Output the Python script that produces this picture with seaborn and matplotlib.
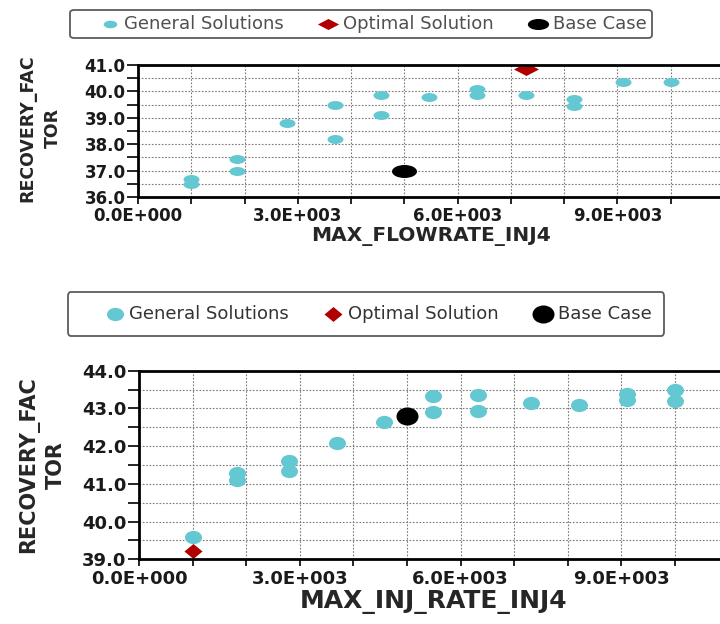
import numpy as np
import pandas as pd
import matplotlib
matplotlib.use("Agg")
import matplotlib.pyplot as plt
import seaborn as sns
from matplotlib.path import Path
from matplotlib.transforms import Affine2D
from matplotlib.ticker import MultipleLocator, FuncFormatter, FormatStrFormatter

# data
flow_x = [1000, 1000, 1850, 1850, 2800, 3700, 3700, 4570, 4570, 5470, 6360, 6360,
          7290, 8190, 8190, 9100, 10000]
flow_y = [36.5, 36.7, 37.0, 37.45, 38.8, 39.5, 38.2, 39.85, 39.1, 39.8, 40.1, 39.85,
          39.85, 39.7, 39.45, 40.35, 40.35]
flow_opt_x = [7290]
flow_opt_y = [40.85]
flow_base_x = [5000]
flow_base_y = [37.0]

inj_x = [1000, 1830, 1830, 2800, 2800, 3690, 4570, 5480, 5480, 6330, 6330, 7310,
         8200, 9100, 9100, 10000, 10000]
inj_y = [39.6, 41.3, 41.1, 41.6, 41.35, 42.07, 42.65, 43.33, 42.9, 43.35, 42.92,
         43.15, 43.09, 43.38, 43.22, 43.5, 43.2]
inj_opt_x = [1000]
inj_opt_y = [39.23]
inj_base_x = [5000]
inj_base_y = [42.81]

legend_labels = ["General Solutions", "Optimal Solution", "Base Case"]
colors = ["#64C8D2", "#B00000", "#000000"]

sns.set_style("white")
plt.rcParams["font.family"] = ["DejaVu Sans"]
plt.rcParams["font.weight"] = "bold"


def ellipse(aspect):
    return Path.unit_circle().transformed(Affine2D().scale(1, aspect))


def diamond(aspect):
    return Path([(-1, 0), (0, -aspect), (1, 0), (0, aspect), (-1, 0)],
                [Path.MOVETO, Path.LINETO, Path.LINETO, Path.LINETO, Path.CLOSEPOLY])


def sci_fmt(v, pos):
    if v == 0:
        return "0.0E+000"
    e = int(np.floor(np.log10(abs(v))))
    return f"{v / 10 ** e:.1f}E+{e:03d}"


def style_axes(ax, ylim, ymaj, ticksize):
    ax.set_xlim(0, 11000)
    ax.set_ylim(*ylim)
    ax.xaxis.set_major_locator(MultipleLocator(3000))
    ax.xaxis.set_minor_locator(MultipleLocator(1000))
    ax.xaxis.set_major_formatter(FuncFormatter(sci_fmt))
    ax.yaxis.set_major_locator(MultipleLocator(ymaj))
    ax.yaxis.set_minor_locator(MultipleLocator(0.5))
    ax.yaxis.set_major_formatter(FormatStrFormatter("%.1f"))
    ax.grid(which="both", color="#7a7a7a", linestyle=(0, (1.5, 1.5)), linewidth=0.8)
    ax.set_axisbelow(True)
    for side in ["top", "left", "bottom"]:
        ax.spines[side].set_linewidth(2)
        ax.spines[side].set_color("black")
    ax.spines["right"].set_visible(False)
    ax.tick_params(axis="y", which="both", left=True, length=8, width=1.2, pad=1,
                   labelsize=ticksize, color="black", labelcolor="#1a1a1a")
    ax.tick_params(axis="x", which="both", bottom=True, length=5, width=1.2, pad=2.5,
                   labelsize=ticksize, color="black", labelcolor="#1a1a1a")


def add_legend(ax, fig, center, textcolor, bpad, markerscale):
    leg = ax.legend(loc="center", bbox_to_anchor=center, bbox_transform=fig.transFigure,
                    ncol=3, frameon=True, fancybox=True, prop={"size": 13, "weight": "normal"},
                    borderpad=bpad, handlelength=3.8, handletextpad=-1.08,
                    columnspacing=0.55, markerscale=markerscale)
    leg.get_frame().set_edgecolor("#333333")
    leg.get_frame().set_linewidth(1.3)
    for t in leg.get_texts():
        t.set_color(textcolor)
    return leg


fig = plt.figure(figsize=(7.2, 6.24), dpi=100)
ax1 = fig.add_axes([138 / 720, 1 - 197 / 624, 586 / 720, 132 / 624])
ax2 = fig.add_axes([139 / 720, 1 - 559.3 / 624, 589.6 / 720, 188.6 / 624])

# top chart
top_gen = pd.DataFrame({"x": flow_x, "y": flow_y})
sns.scatterplot(data=top_gen, x="x", y="y", ax=ax1, color=colors[0], marker=ellipse(0.56),
                s=132, linewidth=0, label=legend_labels[0])
sns.scatterplot(x=flow_opt_x, y=flow_opt_y, ax=ax1, color=colors[1], marker=diamond(0.52),
                s=324, linewidth=0, label=legend_labels[1])
sns.scatterplot(x=flow_base_x, y=flow_base_y, ax=ax1, color=colors[2], marker=ellipse(0.52),
                s=324, linewidth=0, label=legend_labels[2])
style_axes(ax1, (36, 41), 1.0, 12)
ax1.set_xlabel("MAX_FLOWRATE_INJ4", fontsize=14.5, fontweight="bold", va="center")
ax1.xaxis.set_label_coords(0.5, -0.3)
ax1.set_ylabel("RECOVERY_FAC\nTOR", fontsize=12.5, fontweight="bold", va="center",
               ha="center", linespacing=1.5)
ax1.yaxis.set_label_coords(-0.167, 0.523)
add_legend(ax1, fig, (361 / 720, 1 - 24 / 624), "#505050", 0.3, 0.85)

# bottom chart
bot_gen = pd.DataFrame({"x": inj_x, "y": inj_y})
sns.scatterplot(data=bot_gen, x="x", y="y", ax=ax2, color=colors[0], marker=ellipse(0.78),
                s=150, linewidth=0, label=legend_labels[0])
sns.scatterplot(x=inj_opt_x, y=inj_opt_y, ax=ax2, color=colors[1], marker=diamond(0.83),
                s=168, linewidth=0, label=legend_labels[1])
sns.scatterplot(x=inj_base_x, y=inj_base_y, ax=ax2, color=colors[2], marker=ellipse(0.82),
                s=251, linewidth=0, label=legend_labels[2])
style_axes(ax2, (39, 44), 1.0, 13)
ax2.set_xlabel("MAX_INJ_RATE_INJ4", fontsize=18, fontweight="bold", va="center")
ax2.xaxis.set_label_coords(0.5, -0.225)
ax2.set_ylabel("RECOVERY_FAC\nTOR", fontsize=15, fontweight="bold", va="center",
               ha="center", linespacing=1.4)
ax2.yaxis.set_label_coords(-0.1645, 0.5)
add_legend(ax2, fig, (366 / 720, 1 - 314 / 624), "#333333", 0.7, 1.0)

fig.savefig("out.png", dpi=100)
